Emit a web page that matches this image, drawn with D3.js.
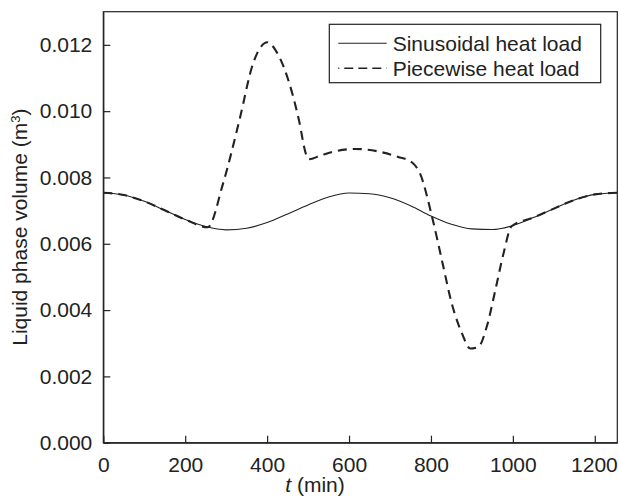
<!DOCTYPE html>
<html>
<head>
<meta charset="utf-8">
<script src="https://cdn.jsdelivr.net/npm/d3@7"></script>
<style>
  html, body { margin: 0; padding: 0; background: #fff; }
  svg { display: block; }
  text { font-family: "Liberation Sans", Arial, Helvetica, sans-serif; fill: #222; }
</style>
</head>
<body>
<svg id="chart" width="619" height="497"></svg>
<script>
// ---- data ----
const xTicks = [0, 200, 400, 600, 800, 1000, 1200];
const yTicks = [0, 0.002, 0.004, 0.006, 0.008, 0.010, 0.012];

const sinT = [0, 50, 100, 150, 200, 250, 300, 350, 400, 450, 500, 550, 600, 650, 700, 750, 800, 850, 900, 950, 1000, 1050, 1100, 1150, 1200, 1255];
const sinV = [0.00754, 0.00747, 0.00728, 0.00701, 0.00673, 0.00652, 0.00642, 0.00647, 0.00664, 0.00690, 0.00717, 0.00741, 0.00753, 0.00751, 0.00739, 0.00715, 0.00684, 0.00659, 0.00645, 0.00643, 0.00655, 0.00679, 0.00706, 0.00732, 0.00749, 0.00754];

const pwT = [0, 50, 100, 150, 200, 255, 292, 332, 365, 385, 401, 420, 438, 462, 478, 495, 502, 530, 559, 616, 673, 720, 754, 774, 802, 827, 851, 876, 896, 916, 936, 957, 977, 997, 1050, 1100, 1150, 1200, 1255];
const pwV = [0.00754, 0.00747, 0.00728, 0.00701, 0.00673, 0.00650, 0.00780, 0.00971, 0.01141, 0.01195, 0.01208, 0.01185, 0.01141, 0.01051, 0.00971, 0.00870, 0.00855, 0.00866, 0.00877, 0.00886, 0.00878, 0.00862, 0.00845, 0.00810, 0.00685, 0.00549, 0.00419, 0.00329, 0.00284, 0.00289, 0.00349, 0.00459, 0.00570, 0.00653, 0.00679, 0.00706, 0.00732, 0.00749, 0.00754];

const seriesNames = ["Sinusoidal heat load", "Piecewise heat load"];

// ---- layout ----
const L = 103.3, R = 617.3, T = 11.7, B = 442.7;
const svg = d3.select("#chart");
const x = d3.scaleLinear().domain([0, 1255]).range([L, R]);
const y = d3.scaleLinear().domain([0, 0.013]).range([B, T]);
const ink = "#222";
const FS = 21;

// frame
svg.append("rect").attr("x", L).attr("y", T).attr("width", R - L).attr("height", B - T)
  .attr("fill", "none").attr("stroke", ink).attr("stroke-width", 1.2);

// axes
const xAxis = svg.append("g").attr("transform", `translate(0,${B})`)
  .call(d3.axisBottom(x).tickValues(xTicks).tickSizeInner(-7).tickSizeOuter(0).tickPadding(14).tickFormat(d3.format("d")));
const yAxis = svg.append("g").attr("transform", `translate(${L},0)`)
  .call(d3.axisLeft(y).tickValues(yTicks).tickSizeInner(-7).tickSizeOuter(0).tickPadding(11).tickFormat(d3.format(".3f")));
[xAxis, yAxis].forEach(g => {
  g.select(".domain").attr("stroke", ink).attr("stroke-width", 1.2);
  g.selectAll(".tick line").attr("stroke", ink).attr("stroke-width", 1.2);
  g.selectAll(".tick text").attr("font-size", FS).attr("fill", ink)
    .style("font-family", '"Liberation Sans", Arial, sans-serif');
});
// keep the last x tick label inside the window
xAxis.selectAll(".tick text").filter(d => d === 1200).attr("text-anchor", "end").attr("dx", 22.5);

// axis titles
const xt = svg.append("text").attr("x", 315).attr("y", 492).attr("text-anchor", "middle").attr("font-size", FS);
xt.append("tspan").attr("font-style", "italic").text("t");
xt.append("tspan").text(" (min)");

const yt = svg.append("text").attr("transform", `translate(27,${(T + B) / 2}) rotate(-90)`)
  .attr("text-anchor", "middle").attr("font-size", FS);
yt.append("tspan").text("Liquid phase volume (m");
yt.append("tspan").attr("font-size", FS * 0.62).attr("dy", -7.5).text("3");
yt.append("tspan").attr("dy", 7.5).text(")");

// lines
const line = d3.line().x(d => x(d[0])).y(d => y(d[1])).curve(d3.curveMonotoneX);
const sinData = sinT.map((t, i) => [t, sinV[i]]);
const pwData = pwT.map((t, i) => [t, pwV[i]]);

svg.append("path").datum(sinData).attr("d", line)
  .attr("fill", "none").attr("stroke", ink).attr("stroke-width", 1.1);
svg.append("path").datum(pwData).attr("d", line)
  .attr("fill", "none").attr("stroke", ink).attr("stroke-width", 2.1)
  .attr("stroke-dasharray", "9,6");

// legend
const lg = svg.append("g");
lg.append("rect").attr("x", 329.3).attr("y", 24.3).attr("width", 271.4).attr("height", 58.4)
  .attr("fill", "#fff").attr("stroke", ink).attr("stroke-width", 1.2);
lg.append("line").attr("x1", 338.3).attr("x2", 386.7).attr("y1", 43.3).attr("y2", 43.3)
  .attr("stroke", ink).attr("stroke-width", 1.1);
lg.append("line").attr("x1", 338.3).attr("x2", 386.7).attr("y1", 68.3).attr("y2", 68.3)
  .attr("stroke", ink).attr("stroke-width", 1.6).attr("stroke-dasharray", "9,5").attr("stroke-dashoffset", 8);
lg.append("text").attr("x", 392.7).attr("y", 50.5).attr("font-size", FS).text(seriesNames[0]);
lg.append("text").attr("x", 392.7).attr("y", 75.5).attr("font-size", FS).text(seriesNames[1]);
</script>
</body>
</html>
